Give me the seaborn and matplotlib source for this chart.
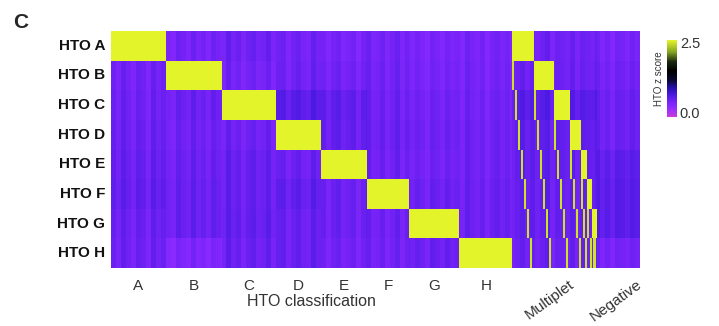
import numpy as np
import pandas as pd
import seaborn as sns
import matplotlib
matplotlib.use("Agg")
import matplotlib.pyplot as plt
from matplotlib.colors import LinearSegmentedColormap
import matplotlib.transforms as mtransforms

# ---------------- data ----------------
row_labels = ["HTO A", "HTO B", "HTO C", "HTO D", "HTO E", "HTO F", "HTO G", "HTO H"]
groups = ["A", "B", "C", "D", "E", "F", "G", "H", "Multiplet", "Negative"]
group_cells = [55, 56, 54, 45, 46, 43, 50, 53, 84, 43]

singlet_z = 3.0      # saturated (yellow)
second_z = 2.5       # second HTO of a multiplet

# background z-score level per row (rows) and group (columns)
bg_level = [
    # A     B     C     D     E     F     G     H    Mult  Neg
    [0.40, 0.38, 0.42, 0.40, 0.36, 0.38, 0.34, 0.36, 0.42, 0.36],  # HTO A
    [0.40, 0.40, 0.38, 0.42, 0.40, 0.40, 0.36, 0.38, 0.44, 0.40],  # HTO B
    [0.42, 0.44, 0.40, 0.55, 0.50, 0.42, 0.40, 0.40, 0.55, 0.44],  # HTO C
    [0.44, 0.42, 0.42, 0.40, 0.48, 0.44, 0.42, 0.42, 0.50, 0.44],  # HTO D
    [0.46, 0.44, 0.46, 0.44, 0.40, 0.42, 0.40, 0.42, 0.50, 0.52],  # HTO E
    [0.48, 0.46, 0.46, 0.50, 0.44, 0.40, 0.44, 0.44, 0.48, 0.54],  # HTO F
    [0.44, 0.46, 0.48, 0.46, 0.44, 0.42, 0.40, 0.44, 0.48, 0.54],  # HTO G
    [0.42, 0.30, 0.44, 0.46, 0.40, 0.40, 0.44, 0.40, 0.44, 0.38],  # HTO H
]

# column streak offsets (one value per 5 cells)
streaks = [
    0.04, -0.06, 0.08, 0.00, -0.08, 0.06, 0.02, -0.10, 0.08, -0.02,
    0.05, -0.04, -0.09, 0.07, 0.01, -0.05, 0.09, -0.03, 0.03, -0.07,
    0.06, 0.00, -0.06, 0.10, -0.02, 0.04, -0.08, 0.02, 0.07, -0.04,
    -0.01, 0.08, -0.07, 0.03, 0.05, -0.09, 0.01, 0.06, -0.03, -0.06,
    0.09, -0.01, 0.04, -0.08, 0.02, 0.07, -0.05, 0.00, 0.05, -0.10,
    0.03, 0.08, -0.04, -0.02, 0.06, -0.07, 0.01, 0.09, -0.06, 0.04,
    -0.03, 0.05, 0.00, -0.08, 0.07, 0.02, -0.05, 0.06, -0.01, 0.03,
    -0.07, 0.08, 0.01, -0.04, 0.05, -0.09, 0.02, 0.06, -0.02, 0.04,
    -0.06, 0.00, 0.07, -0.03, 0.05, -0.05, 0.02, 0.08, -0.08, 0.03,
    0.01, -0.04, 0.06, -0.07, 0.04, 0.00, -0.02, 0.07, -0.05, 0.03,
    -0.08, 0.05, 0.02, -0.03, 0.06, 0.00,
]

# multiplet cells: (first HTO, second HTO or None, number of cells)
multiplet_cells = [
    ("A", "B", 2), ("A", None, 1), ("A", "C", 2), ("A", None, 1), ("A", "D", 2), ("A", None, 1),
    ("A", "E", 2), ("A", None, 1), ("A", "F", 2), ("A", None, 1), ("A", "G", 2), ("A", None, 1),
    ("A", "H", 2), ("A", None, 2),
    ("B", "C", 2), ("B", None, 1), ("B", "D", 2), ("B", None, 1), ("B", "E", 2), ("B", None, 1),
    ("B", "F", 2), ("B", None, 1), ("B", "G", 2), ("B", None, 1), ("B", "H", 2), ("B", None, 3),
    ("C", "D", 2), ("C", None, 1), ("C", "E", 2), ("C", None, 1), ("C", "F", 2), ("C", None, 1),
    ("C", "G", 2), ("C", None, 1), ("C", "H", 2), ("C", None, 2),
    ("D", "E", 2), ("D", None, 1), ("D", "F", 2), ("D", None, 1), ("D", "G", 2), ("D", None, 1),
    ("D", "H", 2),
    ("E", "F", 2), ("E", "G", 2), ("E", "H", 2),
    ("F", "G", 2), ("F", None, 1), ("F", "H", 2),
    ("G", None, 1), ("G", "H", 3), ("G", None, 1),
]

# ---------------- build matrix ----------------
hto_letters = groups[:8]
bg = np.array(bg_level)
columns = []
col_idx = 0
for gi, n in enumerate(group_cells):
    if groups[gi] == "Multiplet":
        for first, second, k in multiplet_cells:
            for _ in range(k):
                col = bg[:, gi] + streaks[col_idx // 5]
                col[hto_letters.index(first)] = singlet_z
                if second is not None:
                    col[hto_letters.index(second)] = second_z
                columns.append(col)
                col_idx += 1
    else:
        for _ in range(n):
            col = bg[:, gi] + streaks[col_idx // 5]
            if gi < 8:
                col[gi] = singlet_z
            columns.append(col)
            col_idx += 1

mat = np.column_stack(columns)
df = pd.DataFrame(mat, index=row_labels)

# ---------------- colours ----------------
cmap = LinearSegmentedColormap.from_list(
    "hto",
    [(0.00, "#C83CD8"), (0.07, "#A432F4"), (0.13, "#8A2AFF"), (0.20, "#7422F6"),
     (0.28, "#4E1AE4"), (0.38, "#2410A8"), (0.48, "#080830"), (0.60, "#000000"),
     (0.72, "#1C2A10"), (0.85, "#86A820"), (1.00, "#E4F42A")])

# ---------------- figure ----------------
sns.set_theme(style="white")
plt.rcParams["font.family"] = ["Liberation Sans", "DejaVu Sans"]

fig = plt.figure(figsize=(7.19, 3.26), dpi=100)
ax = fig.add_axes([111 / 719, 1 - 268 / 326, (640 - 111) / 719, (268 - 31) / 326])
cax = fig.add_axes([667 / 719, 1 - 117 / 326, 10 / 719, 77 / 326])

sns.heatmap(df, ax=ax, cmap=cmap, vmin=-0.15, vmax=2.6, cbar_ax=cax,
            xticklabels=False, yticklabels=row_labels)

# row labels
ax.set_yticks(np.arange(len(row_labels)) + 0.5)
ax.set_yticklabels(row_labels, rotation=0, fontsize=11, fontweight="bold", color="#111111")
ax.tick_params(axis="y", length=0, pad=4)

# x tick labels at group centres
edges = np.concatenate([[0], np.cumsum(group_cells)])
centres = (edges[:-1] + edges[1:]) / 2
ax.set_xticks(centres[:8])
ax.set_xticklabels(groups[:8], fontsize=11, color="#333333")
ax.tick_params(axis="x", length=0, pad=8)

trans = mtransforms.blended_transform_factory(ax.transData, ax.transAxes)
ax.text(edges[8] / 2, -0.14, "HTO classification", transform=trans,
        ha="center", va="center", fontsize=11.5, color="#333333")
ax.text(458, -0.04, "Multiplet", transform=trans, ha="right", va="top",
        rotation=36, rotation_mode="anchor", fontsize=11, color="#333333", clip_on=False)
ax.text(526, -0.04, "Negative", transform=trans, ha="right", va="top",
        rotation=36, rotation_mode="anchor", fontsize=11, color="#333333", clip_on=False)

ax.set_xlabel("")
ax.set_ylabel("")

# colourbar
cbar = ax.collections[0].colorbar
cbar.outline.set_visible(False)
cbar.set_ticks([0.0, 2.5])
cbar.set_ticklabels(["0.0", "2.5"])
cax.tick_params(length=0, labelsize=10.5, labelcolor="#333333", pad=2)
cax.yaxis.set_label_position("left")
cax.set_ylabel("HTO z score", fontsize=7, color="#333333", labelpad=2)

fig.text(13 / 719, 1 - 22 / 326, "C", fontsize=15, fontweight="bold", va="center", ha="left")

fig.savefig("out.png", dpi=100)
